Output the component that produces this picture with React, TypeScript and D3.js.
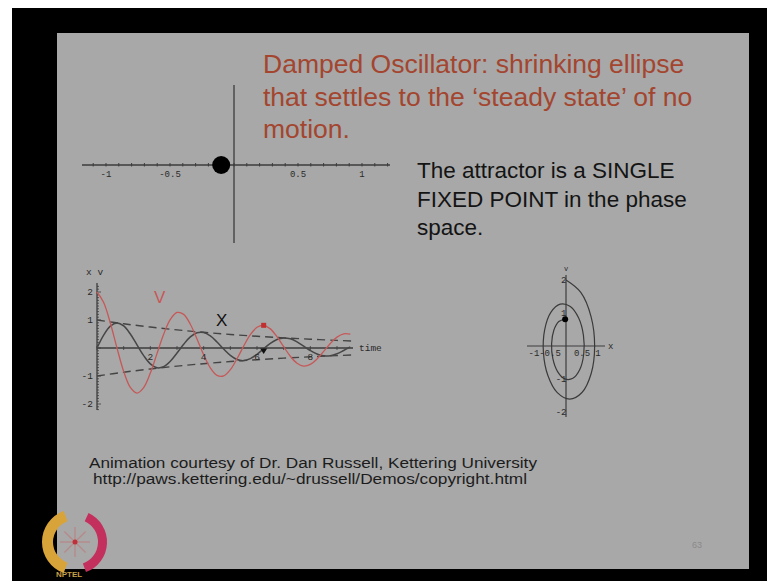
import React from "react";
import * as d3 from "d3";

const W = 767;
const H = 581;

// Slide text
const titleLines = [
  "Damped Oscillator: shrinking ellipse",
  "that settles to the \u2018steady state\u2019 of no",
  "motion.",
];
const noteLines = ["The attractor is a SINGLE", "FIXED POINT in the phase", "space."];
const creditLines = [
  "Animation courtesy of Dr. Dan Russell, Kettering University",
  "http://paws.kettering.edu/~drussell/Demos/copyright.html",
];
const pageNumber = "63";

// 1-D position line
const lineTicks = [-1, -0.5, 0.5, 1];
const lineTickLabels = ["-1", "-0.5", "0.5", "1"];
const massPosition = -0.1;

// Time series (time, position x, velocity v)
const times = [
  0, 0.25, 0.5, 0.75, 1, 1.25, 1.5, 1.75, 2, 2.25, 2.5, 2.75, 3, 3.25, 3.5, 3.75, 4, 4.25, 4.5, 4.75,
  5, 5.25, 5.5, 5.75, 6, 6.25, 6.5, 6.75, 7, 7.25, 7.5, 7.75, 8, 8.25, 8.5, 8.75, 9, 9.25, 9.5,
];
const positions = [
  0, 0.462, 0.783, 0.895, 0.787, 0.499, 0.114, -0.272, -0.566, -0.705, -0.667, -0.474, -0.181, 0.134,
  0.396, 0.545, 0.554, 0.431, 0.215, -0.038, -0.263, -0.411, -0.45, -0.38, -0.225, -0.027, 0.164, 0.302,
  0.359, 0.327, 0.219, 0.067, -0.09, -0.215, -0.28, -0.275, -0.204, -0.088, 0.038,
];
const velocities = [
  2.0, 1.626, 0.892, -0.003, -0.834, -1.409, -1.609, -1.414, -0.896, -0.202, 0.492, 1.02, 1.269, 1.2,
  0.85, 0.324, -0.243, -0.713, -0.98, -0.996, -0.775, -0.385, 0.069, 0.475, 0.74, 0.81, 0.683, 0.403,
  0.047, -0.295, -0.544, -0.646, -0.587, -0.393, -0.12, 0.161, 0.388, 0.505, 0.493,
];
const envelopeTimes = [0, 1, 2, 3, 4, 5, 6, 7, 8, 9, 9.6];
const envelopeValues = [1, 0.865, 0.748, 0.647, 0.56, 0.484, 0.419, 0.362, 0.314, 0.271, 0.249];
const timeTicks = [2, 4, 6, 8];
const valueTicks = [2, 1, -1, -2];
const currentIndex = 25; // t = 6.25

// Phase portrait ticks
const phaseXTicks = [-1, -0.5, 0.5, 1];
const phaseXLabels = ["-1", "-0.5", "0.5", "1"];
const phaseVTicks = [2, 1, -1, -2];

const SANS = "'Liberation Sans', Arial, sans-serif";
const MONO = "'Liberation Mono', 'Courier New', monospace";
const BG = "#a8a8a8";
const INK = "#3c3c3c";
const RED = "#c65858";

export default function App() {
  // 1-D line scale
  const lx = d3.scaleLinear().domain([-1, 1]).range([106, 362]);
  const lineY = 165;
  const minorLine = d3.range(-11, 13).map((i) => i / 10);

  // time series scales
  const tx = d3.scaleLinear().domain([0, 9.6]).range([97, 353]);
  const ty = d3.scaleLinear().domain([-2, 2]).range([404, 292]);
  const series = times.map((t, i) => ({ t, x: positions[i], v: velocities[i] }));
  const env = envelopeTimes.map((t, i) => ({ t, e: envelopeValues[i] }));
  const xLine = d3
    .line<{ t: number; x: number; v: number }>()
    .x((d) => tx(d.t))
    .y((d) => ty(d.x))
    .curve(d3.curveCatmullRom);
  const vLine = d3
    .line<{ t: number; x: number; v: number }>()
    .x((d) => tx(d.t))
    .y((d) => ty(d.v))
    .curve(d3.curveCatmullRom);
  const envUp = d3
    .line<{ t: number; e: number }>()
    .x((d) => tx(d.t))
    .y((d) => ty(d.e))
    .curve(d3.curveCatmullRom);
  const envDown = d3
    .line<{ t: number; e: number }>()
    .x((d) => tx(d.t))
    .y((d) => ty(-d.e))
    .curve(d3.curveCatmullRom);
  const yMinor = d3.range(-22, 23).map((i) => i / 10);
  const tMinor = d3.range(0, 10);
  const cur = series[currentIndex];

  // phase portrait scales
  const px = d3.scaleLinear().domain([-1, 1]).range([534, 598]);
  const pv = d3.scaleLinear().domain([-2, 2]).range([412, 280]);
  const trail = series.slice(0, currentIndex + 1);
  const phaseLine = d3
    .line<{ t: number; x: number; v: number }>()
    .x((d) => px(d.x))
    .y((d) => pv(d.v))
    .curve(d3.curveCatmullRom);

  // logo pieces
  const logoCx = 75;
  const logoCy = 542;
  const leftArc = d3.arc()({
    innerRadius: 22,
    outerRadius: 33,
    startAngle: (200 * Math.PI) / 180,
    endAngle: (340 * Math.PI) / 180,
  } as any);
  const rightArc = d3.arc()({
    innerRadius: 23,
    outerRadius: 32,
    startAngle: (25 * Math.PI) / 180,
    endAngle: (160 * Math.PI) / 180,
  } as any);
  const spokes = d3.range(8).map((i) => (i * Math.PI) / 4);

  return (
    <svg
      width={W}
      height={H}
      viewBox={`0 0 ${W} ${H}`}
      style={{ position: "absolute", left: 0, top: 0, display: "block" }}
    >
      {/* frame */}
      <rect x={0} y={0} width={W} height={H} fill="#ffffff" />
      <rect x={12} y={8} width={W - 12} height={H - 8} fill="#000000" />
      <rect x={57} y={33} width={692} height={536} fill={BG} />

      {/* title */}
      <g fontFamily={SANS} fontSize={26.5} fill="#a3452f">
        {titleLines.map((s, i) => (
          <text key={i} x={263} y={73 + i * 32.5}>
            {s}
          </text>
        ))}
      </g>

      {/* note */}
      <g fontFamily={SANS} fontSize={22.5} fill="#141414">
        {noteLines.map((s, i) => (
          <text key={i} x={417} y={178 + i * 28.7}>
            {s}
          </text>
        ))}
      </g>

      {/* 1-D position line */}
      <g stroke={INK}>
        <line x1={82} x2={390} y1={lineY} y2={lineY} strokeWidth={1.3} />
        <line x1={lx(0)} x2={lx(0)} y1={85} y2={243} strokeWidth={1.3} />
        {minorLine.map((v) => (
          <line key={v} x1={lx(v)} x2={lx(v)} y1={lineY - 2} y2={lineY + 1.5} strokeWidth={1} />
        ))}
      </g>
      <g fontFamily={MONO} fontSize={9} fill="#2a2a2a" textAnchor="middle">
        {lineTicks.map((v, i) => (
          <text key={v} x={lx(v)} y={lineY + 12}>
            {lineTickLabels[i]}
          </text>
        ))}
      </g>
      <circle cx={lx(massPosition)} cy={lineY} r={9} fill="#000" />

      {/* time series */}
      <g stroke={INK} fill="none">
        <line x1={tx(0)} x2={tx(0)} y1={283} y2={410} strokeWidth={1.3} />
        <line x1={tx(0)} x2={353} y1={ty(0)} y2={ty(0)} strokeWidth={1.5} />
        {yMinor.map((v) => (
          <line
            key={v}
            x1={tx(0)}
            x2={tx(0) + (Math.abs(v % 1) < 1e-9 ? 4 : 2)}
            y1={ty(v)}
            y2={ty(v)}
            strokeWidth={0.8}
          />
        ))}
        {tMinor.map((t) => (
          <line key={t} x1={tx(t)} x2={tx(t)} y1={ty(0) - 2} y2={ty(0) + 2} strokeWidth={0.8} />
        ))}
        <path d={envUp(env) || ""} strokeWidth={1.4} strokeDasharray="8 5" stroke="#444" />
        <path d={envDown(env) || ""} strokeWidth={1.4} strokeDasharray="8 5" stroke="#444" />
        <path d={xLine(series) || ""} strokeWidth={1.5} stroke="#464646" />
        <path d={vLine(series) || ""} strokeWidth={1.3} stroke={RED} />
      </g>
      <g fontFamily={MONO} fontSize={9.5} fill="#2a2a2a">
        <text x={86} y={275}>x v</text>
        {valueTicks.map((v) => (
          <text key={v} x={tx(0) - 4} y={ty(v) + 3} textAnchor="end">
            {v}
          </text>
        ))}
        {timeTicks.map((t) => (
          <text key={t} x={tx(t)} y={ty(0) + 12} textAnchor="middle">
            {t}
          </text>
        ))}
        <text x={359} y={ty(0) + 3}>time</text>
      </g>
      <text x={154} y={303} fontFamily={SANS} fontSize={17} fill={RED}>
        V
      </text>
      <text x={216} y={326} fontFamily={SANS} fontSize={17} fill="#111">
        X
      </text>
      <rect x={tx(cur.t) - 2.5} y={ty(cur.v) - 2.5} width={5} height={5} fill="#c03030" />
      <path
        d={`M${tx(cur.t) - 3.5},${ty(0) + 0.5} L${tx(cur.t) + 3.5},${ty(0) + 0.5} L${tx(cur.t)},${ty(0) + 6} Z`}
        fill="#111"
      />

      {/* phase portrait */}
      <g stroke={INK} fill="none">
        <line x1={527} x2={605} y1={pv(0)} y2={pv(0)} strokeWidth={1.2} />
        <line x1={px(0)} x2={px(0)} y1={275} y2={417} strokeWidth={1.2} />
        <path d={phaseLine(trail) || ""} strokeWidth={1.2} stroke="#3a3a3a" />
      </g>
      <circle cx={px(cur.x)} cy={pv(cur.v)} r={3} fill="#000" />
      <g fontFamily={MONO} fontSize={9} fill="#2a2a2a">
        {phaseXTicks.map((v, i) => (
          <text key={v} x={px(v)} y={pv(0) + 10} textAnchor="middle">
            {phaseXLabels[i]}
          </text>
        ))}
        {phaseVTicks.map((v) => (
          <text key={v} x={px(0) + 0.5} y={pv(v) + 3} textAnchor="end">
            {v}
          </text>
        ))}
        <text x={608} y={pv(0) + 3}>x</text>
        <text x={px(0)} y={271} textAnchor="middle" fontSize={7}>v</text>
      </g>

      {/* credits */}
      <g fontFamily={SANS} fontSize={15.5} fill="#1c1c1c">
        <text x={89} y={468} textLength={448} lengthAdjust="spacingAndGlyphs">
          {creditLines[0]}
        </text>
        <text x={93} y={484} textLength={434} lengthAdjust="spacingAndGlyphs">
          {creditLines[1]}
        </text>
      </g>
      <text x={697} y={548} fontFamily={SANS} fontSize={9} fill="#8a8a8a" textAnchor="middle">
        {pageNumber}
      </text>

      {/* logo */}
      <g transform={`translate(${logoCx},${logoCy})`}>
        <path d={leftArc || ""} fill="#d8a43a" />
        <path d={rightArc || ""} fill="#c3305e" />
        {spokes.map((a, i) => (
          <line
            key={i}
            x1={0}
            y1={0}
            x2={Math.cos(a) * 15}
            y2={Math.sin(a) * 15}
            stroke="#b58a8a"
            strokeWidth={1.4}
          />
        ))}
        <circle r={2.5} fill="#c0303a" />
      </g>
      <text x={56} y={577} fontFamily={SANS} fontSize={8} fontWeight="bold" fill="#c9a046">
        NPTEL
      </text>
    </svg>
  );
}
